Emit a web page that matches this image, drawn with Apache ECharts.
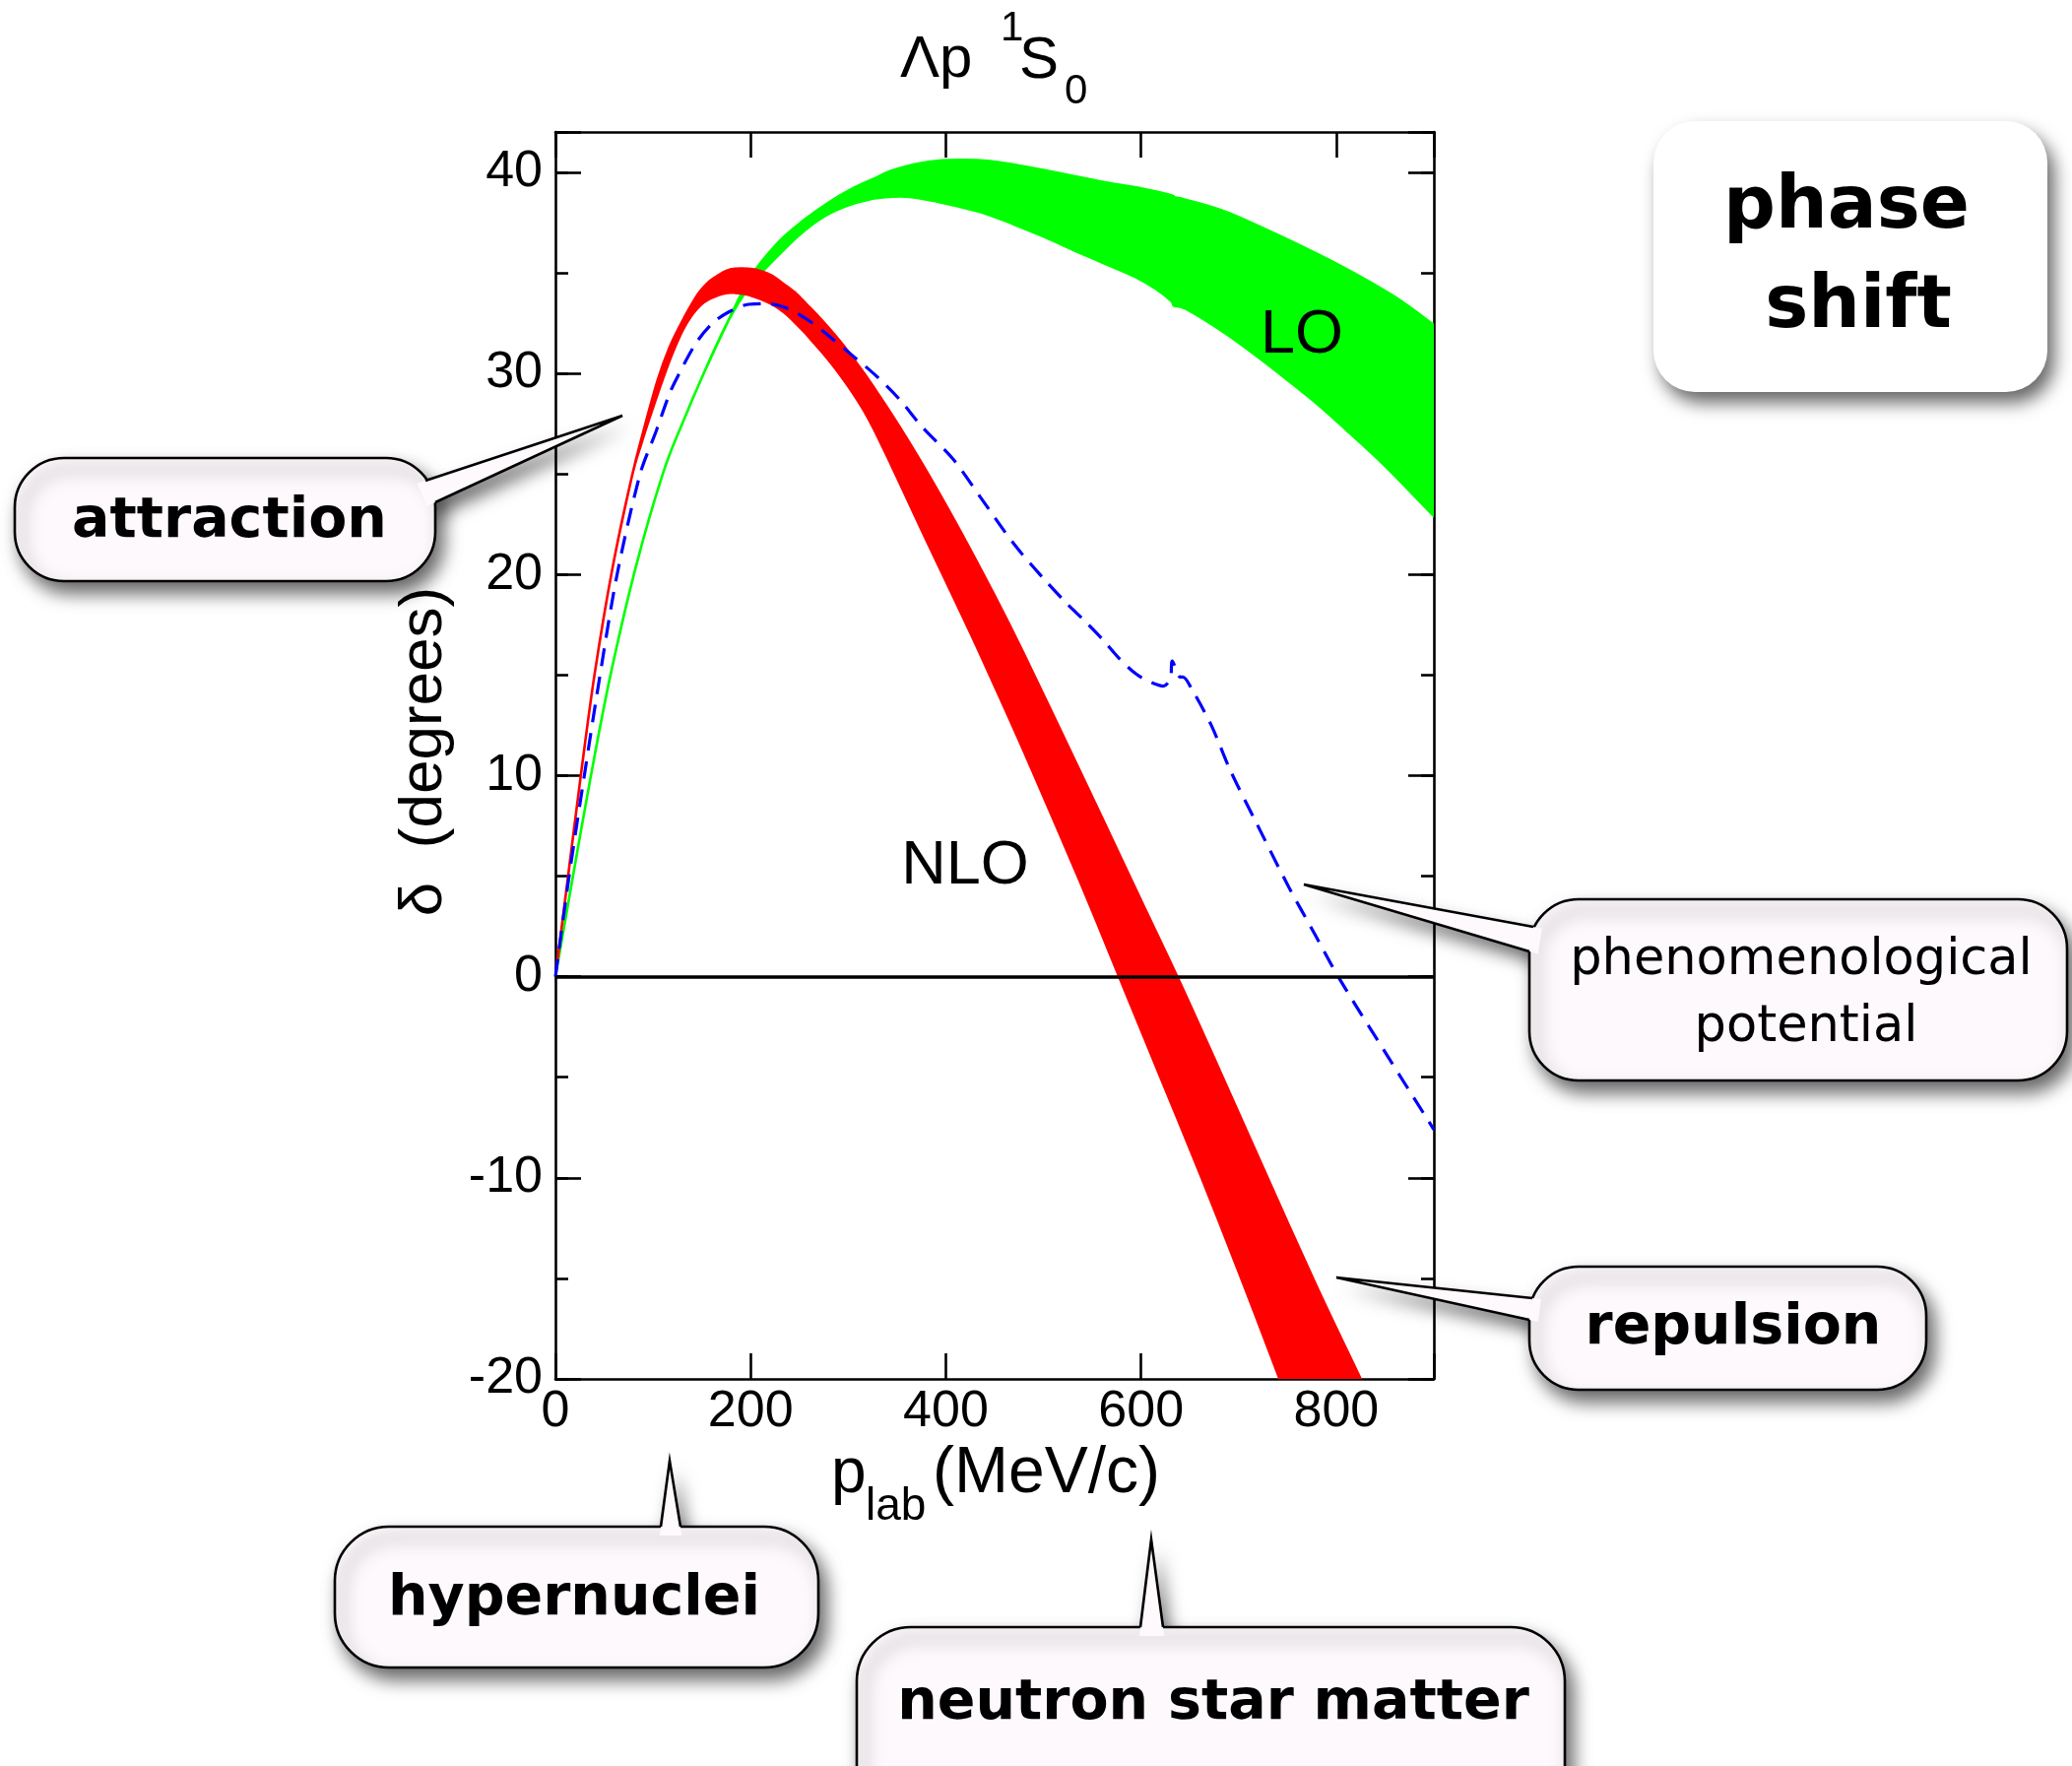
<!doctype html>
<html lang="en">
<head>
<meta charset="UTF-8">
<title>Λp 1S0 phase shift</title>
<script src="https://cdn.jsdelivr.net/npm/echarts@6.0.0/dist/echarts.min.js"></script>
<style>
    html, body { margin: 0; padding: 0; background: #fff; }
    #chart { width: 2104px; height: 1793px; }
</style>
</head>
<body>
<div id="chart"></div>
<script>
// tick labels
var xTicks = [0, 200, 400, 600, 800];
var yTicks = [-20, -10, 0, 10, 20, 30, 40];

// LO band (green), edges as [p_lab, delta]
var loUpper = [[0, 0], [18, 5], [36, 9.9], [56, 14.9], [82, 20.3], [110, 25], [130, 27.5], [152, 30], [177, 32.6],
    [200, 34.8], [228, 36.5], [254, 37.6], [280, 38.5], [303, 39.15], [325, 39.65], [346, 40.1], [375, 40.45],
    [402, 40.6], [445, 40.55], [501, 40.1], [563, 39.5], [600, 39.2], [631, 38.85], [634, 38.7], [640, 38.7],
    [686, 38.05], [748, 36.7], [810, 35.2], [860, 33.8], [900, 32.4]];
var loLower = [[0, 0], [18, 5], [36, 9.9], [56, 14.9], [82, 20.3], [110, 25], [130, 27.5], [152, 30], [177, 32.6],
    [200, 34.4], [223, 35.6], [248, 36.8], [272, 37.7], [297, 38.3], [322, 38.65], [345, 38.78], [360, 38.78],
    [385, 38.6], [408, 38.35], [440, 37.95], [470, 37.4], [500, 36.8], [532, 36.1], [563, 35.45], [594, 34.8],
    [615, 34.2], [631, 33.6], [634, 33.35], [646, 33.2], [686, 32], [720, 30.8], [748, 29.75], [780, 28.5],
    [810, 27.2], [850, 25.4], [900, 22.9]];

// NLO band (red)
var nloUpper = [[0, 0], [13, 5], [26, 10], [40, 15], [58, 20.2], [78, 24.8], [90, 27.1], [105, 29.7], [117, 31.3],
    [129, 32.5], [138, 33.3], [147, 34], [156, 34.5], [166, 34.85], [175, 35.1], [184, 35.2], [197, 35.2],
    [210, 35.1], [222, 34.85], [235, 34.4], [247, 33.95], [258, 33.4], [270, 32.8], [282, 32.15], [294, 31.45],
    [305, 30.75], [317, 29.95], [329, 29.1], [344, 28], [359, 26.85], [377, 25.4], [396, 23.8], [420, 21.7],
    [450, 18.95], [479, 16.15], [520, 12], [563, 7.6], [600, 3.8], [640, -0.3], [680, -4.6], [726, -9.6],
    [779, -15.3], [825, -20]];
var nloLower = [[0, 0], [13, 5], [26, 10], [40, 15], [58, 20.2], [78, 24.8], [88, 26.5], [98, 28], [110, 29.7],
    [120, 31], [130.5, 32.15], [140, 32.9], [149, 33.4], [158, 33.7], [167.5, 33.9], [176, 34], [184, 34],
    [194, 33.95], [204.5, 33.8], [215, 33.6], [225, 33.35], [235, 33], [245, 32.55], [255, 32.05], [265, 31.5],
    [275, 30.95], [285, 30.35], [295, 29.7], [305, 29], [316, 28.15], [326, 27.25], [341, 25.75], [356, 24.2],
    [380, 21.7], [408, 18.85], [436, 15.95], [475, 11.75], [513, 7.5], [545, 3.85], [575, 0.3], [619, -4.9],
    [662, -10], [705, -15.3], [742, -20]];

// phenomenological potential (blue dashed)
var phenLine = [[0, 0], [14, 5], [29.6, 10], [45.7, 15], [63.2, 20], [86.8, 25], [103, 27.1], [117, 29],
    [125.4, 29.86], [144, 31.5], [160.8, 32.48], [177.6, 33.05], [197.8, 33.43], [218, 33.46], [238, 33.22],
    [261.6, 32.56], [285.2, 31.66], [305.4, 30.84], [328.9, 29.86], [352.4, 28.71], [376, 27.32], [408, 25.7],
    [436, 23.8], [470, 21.5], [500, 19.8], [525, 18.5], [541, 17.75], [560, 16.8], [578, 15.8], [595, 15.05],
    [610, 14.64], [623, 14.45], [630, 14.8], [632, 15.7], [640, 14.9], [643, 14.9], [652, 14.3], [672, 12.5],
    [692, 10.2], [717, 7.76], [751, 4.49], [779, 2.03], [802, 0], [850, -3.75], [900, -7.6]];

var chart = echarts.init(document.getElementById('chart'));

function onlyTicks(list) {
    return function (v) { return list.indexOf(v) >= 0 ? String(v) : ''; };
}

// smooth curve through pixel points (catmull-rom as cubic beziers)
function curveTo(pts) {
    var s = '';
    for (var i = 0; i < pts.length - 1; i++) {
        var p0 = pts[i - 1] || pts[i], p1 = pts[i], p2 = pts[i + 1], p3 = pts[i + 2] || p2;
        var c1x = p1[0] + (p2[0] - p0[0]) / 6, c1y = p1[1] + (p2[1] - p0[1]) / 6;
        var c2x = p2[0] - (p3[0] - p1[0]) / 6, c2y = p2[1] - (p3[1] - p1[1]) / 6;
        s += ' C' + c1x + ',' + c1y + ' ' + c2x + ',' + c2y + ' ' + p2[0] + ',' + p2[1];
    }
    return s;
}

// filled area between two edges of a band
function bandItem(upper, lower, color) {
    return function (params, api) {
        if (params.dataIndex !== 0) return null;
        var up = upper.map(function (d) { return api.coord(d); });
        var lo = lower.slice().reverse().map(function (d) { return api.coord(d); });
        var d = 'M' + up[0][0] + ',' + up[0][1] + curveTo(up) +
            ' L' + lo[0][0] + ',' + lo[0][1] + curveTo(lo) + ' Z';
        return {
            type: 'path',
            shape: { pathData: d },
            style: { fill: color, stroke: color, lineWidth: 2.6, lineJoin: 'round' }
        };
    };
}

var black = '#000';
var tickStyle = { color: black, width: 2.6 };
var labelStyle = { color: black, fontFamily: 'Liberation Sans', fontSize: 52 };

function xAx(pos, showLabel) {
    return {
        type: 'value', position: pos, min: 0, max: 900, interval: 200,
        axisLine: { show: true, onZero: false, lineStyle: tickStyle },
        axisTick: { show: true, inside: true, length: 26, lineStyle: tickStyle },
        axisLabel: Object.assign({ show: showLabel, margin: 8, formatter: onlyTicks(xTicks) }, labelStyle),
        splitLine: { show: false }
    };
}
function yAx(pos, interval, len, showLabel, showLine) {
    return {
        type: 'value', position: pos, min: -20, max: 42, interval: interval,
        axisLine: { show: showLine, onZero: false, lineStyle: tickStyle },
        axisTick: { show: true, inside: true, length: len, lineStyle: tickStyle },
        axisLabel: Object.assign({ show: showLabel, margin: 13, formatter: onlyTicks(yTicks) }, labelStyle),
        splitLine: { show: false }
    };
}

// speech bubbles drawn with graphic elements
var FILL = '#fdf9fd';
var shadow = { shadowBlur: 18, shadowOffsetX: 7, shadowOffsetY: 11, shadowColor: 'rgba(0,0,0,0.6)' };
var zc = 100;
function bubble(box, r, tip, b1, b2, fill, stroke) {
    var els = [];
    function inside(b) {
        var dx = b[0] - tip[0], dy = b[1] - tip[1], len = Math.sqrt(dx * dx + dy * dy);
        return [b[0] + dx / len * 9, b[1] + dy / len * 9];
    }
    var rectStyle = Object.assign({ fill: fill }, shadow);
    if (stroke) { rectStyle.stroke = black; rectStyle.lineWidth = 2.6; }
    if (tip) {
        els.push({ type: 'polygon', z: zc++, shape: { points: [inside(b1), tip, inside(b2)] },
            style: Object.assign({ fill: fill }, shadow) });
    }
    els.push({ type: 'rect', z: zc++, shape: { x: box[0], y: box[1], width: box[2], height: box[3], r: r },
        style: rectStyle });
    if (tip) {
        els.push({ type: 'polygon', z: zc++, shape: { points: [inside(b1), tip, inside(b2)] },
            style: { fill: fill } });
        els.push({ type: 'polyline', z: zc++, shape: { points: [b1, tip, b2] },
            style: { stroke: black, lineWidth: 2.6, fill: null, lineJoin: 'miter' } });
    }
    return els;
}
function label(x, y, text, font, extra) {
    return Object.assign({
        type: 'text', z: zc++, x: x, y: y,
        style: { text: text, font: font, fill: black, align: 'center', verticalAlign: 'middle' }
    }, extra || {});
}
function leftLabel(x, y, text, font) {
    return { type: 'text', z: zc++, x: x, y: y,
        style: { text: text, font: font, fill: black, align: 'left', verticalAlign: 'middle' } };
}

var boldFont = 'bold 57px "DejaVu Sans"';
var graphics = [];
graphics = graphics.concat(bubble([15, 465, 427, 125], 50, [632, 422], [432, 488], [442, 510], FILL, true));
graphics.push(label(233, 530, 'attraction', boldFont));
graphics = graphics.concat(bubble([1679, 123, 400, 275], 42, null, null, null, '#ffffff', false));
graphics.push(label(1875, 212, 'phase', 'bold 74px "DejaVu Sans"'));
graphics.push(label(1887, 313, 'shift', 'bold 74px "DejaVu Sans"'));
graphics = graphics.concat(bubble([1553, 913, 546, 184], 50, [1324, 898], [1557, 941], [1553, 966], FILL, true));
graphics.push(label(1829, 976, 'phenomenological', '51px "DejaVu Sans"'));
graphics.push(label(1834, 1044, 'potential', '51px "DejaVu Sans"'));
graphics = graphics.concat(bubble([1553, 1286, 403, 125], 50, [1357, 1297], [1556, 1318], [1553, 1340], FILL, true));
graphics.push(label(1760, 1349, 'repulsion', boldFont));
graphics = graphics.concat(bubble([340, 1550, 491, 143], 55, [680, 1483], [671, 1550], [691, 1550], FILL, true));
graphics.push(label(583, 1624, 'hypernuclei', boldFont));
graphics = graphics.concat(bubble([870, 1652, 719, 200], 55, [1169, 1563], [1158, 1652], [1181, 1652], FILL, true));
graphics.push(label(1232, 1730, 'neutron star matter', boldFont));

// title Λp 1S0
graphics.push(leftLabel(914, 61, 'Λp', '60px "Liberation Sans"'));
graphics.push(leftLabel(1016, 29, '1', '42px "Liberation Sans"'));
graphics.push(leftLabel(1035, 62, 'S', '60px "Liberation Sans"'));
graphics.push(leftLabel(1081, 93, '0', '42px "Liberation Sans"'));

// axis names
graphics.push(leftLabel(844, 1497, 'p', '64px "Liberation Sans"'));
graphics.push(leftLabel(879, 1530, 'lab', '46px "Liberation Sans"'));
graphics.push(leftLabel(947, 1497, '(MeV/c)', '66px "Liberation Sans"'));
graphics.push(label(431, 763, 'δ  (degrees)', '62px "Liberation Sans"', { rotation: Math.PI / 2 }));

// curve labels
graphics.push(label(1322, 341, 'LO', '63px "Liberation Sans"'));
graphics.push(label(980, 880, 'NLO', '63px "Liberation Sans"'));

var option = {
    animation: false,
    backgroundColor: '#fff',
    grid: { left: 564, top: 134, width: 892, height: 1266, containLabel: false, outerBoundsMode: 'none' },
    xAxis: [xAx('bottom', true), xAx('top', false)],
    yAxis: [
        yAx('left', 10, 26, true, true),
        yAx('left', 5, 13, false, false),
        yAx('right', 10, 26, false, true),
        yAx('right', 5, 13, false, false)
    ],
    graphic: graphics,
    series: [
        {
            name: 'LO', type: 'custom', clip: true, z: 2,
            data: loUpper.concat(loLower), encode: { x: 0, y: 1 },
            renderItem: bandItem(loUpper, loLower, '#00ff00')
        },
        {
            name: 'NLO', type: 'custom', clip: true, z: 3,
            data: nloUpper.concat(nloLower), encode: { x: 0, y: 1 },
            renderItem: bandItem(nloUpper, nloLower, '#ff0000')
        },
        {
            name: 'phenomenological potential', type: 'line', z: 4,
            data: phenLine, symbol: 'none', showSymbol: false,
            smooth: 0.3,
            lineStyle: { color: '#0000ff', width: 3.2, type: [18, 11], cap: 'butt' },
            markLine: {
                silent: true, symbol: 'none', label: { show: false },
                lineStyle: { color: black, width: 3.6, type: 'solid' },
                data: [{ yAxis: 0 }]
            }
        }
    ]
};

chart.setOption(option);
</script>
</body>
</html>
